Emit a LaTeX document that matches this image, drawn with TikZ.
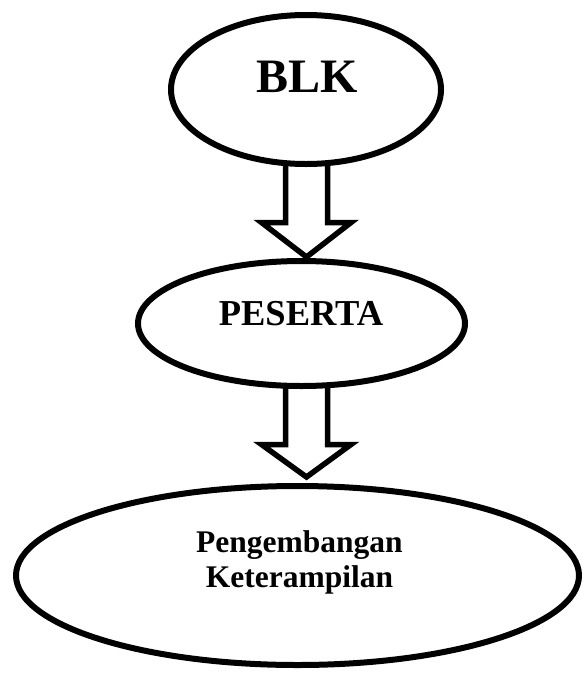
\documentclass[tikz,border=0pt]{standalone}
\usepackage{fontspec}
\setmainfont{Liberation Serif}
\usetikzlibrary{shapes.geometric,calc}
\tikzset{
  oval/.style={ellipse, draw=black, line width=6pt, inner sep=0pt, fill=white},
  lbl/.style={anchor=base, inner sep=0pt, font=\bfseries},
  blockarrow/.style={draw=black, line width=5.5pt, line join=miter, miter limit=10}
}
\begin{document}
\begin{tikzpicture}[x=1pt,y=-1pt]
\useasboundingbox (0,0) rectangle (582,673);
% ellipses
\node[oval, minimum width=270pt, minimum height=149pt] (e1) at (306,89.5) {};
\node[oval, minimum width=327pt, minimum height=125pt] (e2) at (301.5,323.5) {};
\node[oval, minimum width=563pt, minimum height=179pt] (e3) at (297.5,575.5) {};
% texts
\node[lbl, font=\bfseries\fontsize{48}{48}\selectfont] (t1) at (307,92) {BLK};
\node[lbl, font=\bfseries\fontsize{36.5}{36.5}\selectfont] (t2) at (301,325) {PESERTA};
\node[lbl, font=\bfseries\fontsize{31.5}{31.5}\selectfont] (t3) at (299.5,552) {Pengembangan};
\node[lbl, font=\bfseries\fontsize{31.5}{31.5}\selectfont] (t4) at (299.5,587) {Keterampilan};
% arrow 1
\coordinate (a1) at (e1.south -| 306.5,0);
\coordinate (b1) at (306.5,257);
\draw[blockarrow] ($(a1)+(-21,-2)$) -- ($(b1)+(-21,-34.5)$) -- ($(b1)+(-45,-34.5)$)
  -- (b1) -- ($(b1)+(44.5,-34.5)$) -- ($(b1)+(21,-34.5)$) -- ($(a1)+(21,-2)$);
% arrow 2
\coordinate (a2) at (e2.south -| 306.5,0);
\coordinate (b2) at (306.5,477);
\draw[blockarrow] ($(a2)+(-21,-2)$) -- ($(b2)+(-21,-32.5)$) -- ($(b2)+(-45,-32.5)$)
  -- (b2) -- ($(b2)+(44.5,-32.5)$) -- ($(b2)+(21,-32.5)$) -- ($(a2)+(21,-2)$);
\end{tikzpicture}
\end{document}
